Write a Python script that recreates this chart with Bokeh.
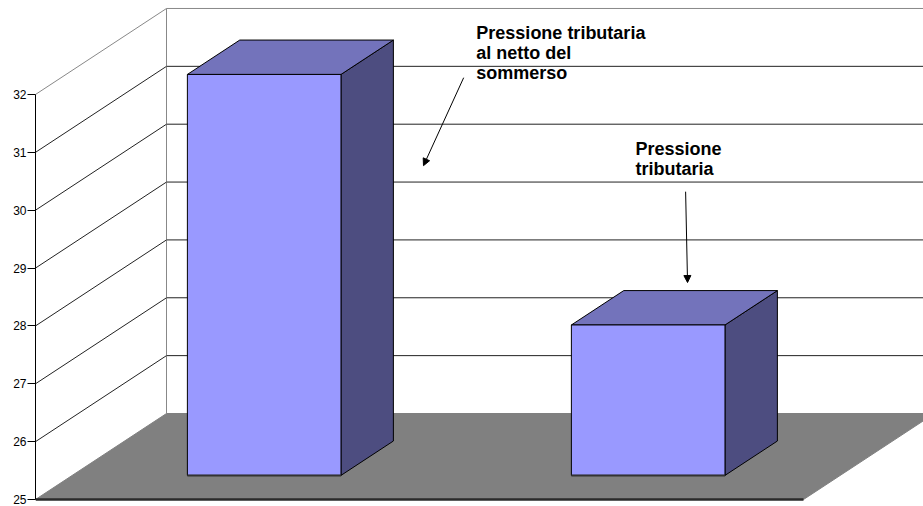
from bokeh.plotting import figure
from bokeh.models import Range1d, FixedTicker, Label, Arrow, NormalHead
from bokeh.embed import file_html
from bokeh.resources import INLINE

# ---- data ----
categories = ["Pressione tributaria al netto del sommerso", "Pressione tributaria"]
values = [31.93, 27.6]
y_ticks = [25, 26, 27, 28, 29, 30, 31, 32]
label1_lines = ["Pressione tributaria", "al netto del", "sommerso"]
label2_lines = ["Pressione", "tributaria"]

# ---- geometry / style constants ----
W, H = 923, 506
LEFT = 35
PX = 57.86                    # pixels per value unit
CAT_PX = 384.0                # pixels per category
Y0, YTOP = y_ticks[0], y_ticks[-1]
DX = 131.0 / CAT_PX           # full depth offset in category units
DY = 86.0 / PX                # full depth offset in value units
D_FRONT = 0.28                # bar front position (fraction of depth)
D_BAR = 0.40                  # bar depth (fraction of depth)
BAR_W = 0.40                  # bar width (fraction of category)
FONT = "Liberation Sans"
LINE_SP = 20.0 / PX

n = len(categories)
x_end = (W - LEFT) / CAT_PX

p = figure(width=W, height=H, output_backend="svg", toolbar_location=None,
           x_range=Range1d(0, x_end),
           y_range=Range1d(Y0 - 7.0 / PX, Y0 + 499.0 / PX),
           x_axis_location=None, y_axis_location="left",
           min_border_left=LEFT, min_border_right=0, min_border_top=0, min_border_bottom=0)
p.outline_line_color = None
p.xgrid.visible = False
p.ygrid.visible = False
p.background_fill_color = "white"

ax = p.yaxis[0]
ax.ticker = FixedTicker(ticks=y_ticks)
ax.bounds = (Y0, YTOP)
ax.major_tick_in = 0
ax.major_tick_out = 8
ax.minor_tick_line_color = None
ax.axis_line_color = "black"
ax.major_tick_line_color = "black"
ax.major_label_standoff = 1
ax.major_label_text_font = FONT
ax.major_label_text_font_size = "12px"
ax.major_label_text_color = "black"

# back wall gridlines
back_x0 = DX
back_x1 = n + DX
for t in y_ticks[1:-1]:
    p.line([back_x0, back_x1], [t + DY, t + DY], line_color="#222222", line_width=1)
# back wall top edge and left vertical edge
p.line([back_x0, back_x1], [YTOP + DY, YTOP + DY], line_color="#888888", line_width=1)
p.line([back_x0, back_x0], [Y0 + DY, YTOP + DY], line_color="#888888", line_width=1)

# left wall diagonals
for t in y_ticks[1:-1]:
    p.line([0, DX], [t, t + DY], line_color="#222222", line_width=1)
p.line([0, DX], [YTOP, YTOP + DY], line_color="#888888", line_width=1)

# floor
p.patch([0, n, n + DX, DX], [Y0, Y0, Y0 + DY, Y0 + DY],
        fill_color="#808080", line_color="#808080", line_width=1)

# bars
for i, v in enumerate(values):
    x0 = i + (1 - BAR_W) / 2 + D_FRONT * DX
    x1 = x0 + BAR_W
    yb = Y0 + D_FRONT * DY
    yt = v + D_FRONT * DY
    bx = D_BAR * DX
    by = D_BAR * DY
    # side face
    p.patch([x1, x1 + bx, x1 + bx, x1], [yb, yb + by, yt + by, yt],
            fill_color="#4D4D80", line_color="black", line_width=1)
    # top face
    p.patch([x0, x1, x1 + bx, x0 + bx], [yt, yt, yt + by, yt + by],
            fill_color="#7373BB", line_color="black", line_width=1)
    # front face
    p.patch([x0, x1, x1, x0], [yb, yb, yt, yt],
            fill_color="#9999FF", line_color="black", line_width=1)
    p.line([x0, x1], [yb, yb], line_color="#333333", line_width=2)

# floor front edge
p.line([0, n], [Y0, Y0], line_color="#2a2a2a", line_width=2.5)

# annotations
lab1_x, lab1_y = 1.148, 33.055
for k, s in enumerate(label1_lines):
    p.add_layout(Label(x=lab1_x, y=lab1_y - k * LINE_SP, text=s, text_font=FONT,
                       text_font_size="18px", text_font_style="bold",
                       text_color="black", text_baseline="alphabetic"))
lab2_x, lab2_y = 1.5625, 31.06
for k, s in enumerate(label2_lines):
    p.add_layout(Label(x=lab2_x, y=lab2_y - k * LINE_SP, text=s, text_font=FONT,
                       text_font_size="18px", text_font_style="bold",
                       text_color="black", text_baseline="alphabetic"))

p.add_layout(Arrow(end=NormalHead(size=7, fill_color="black", line_color="black"),
                   x_start=1.115, y_start=32.29, x_end=1.0104, y_end=30.77,
                   line_color="black", line_width=1))
p.add_layout(Arrow(end=NormalHead(size=7, fill_color="black", line_color="black"),
                   x_start=1.693, y_start=30.32, x_end=1.698, y_end=28.75,
                   line_color="black", line_width=1))

open("out.html", "w").write(file_html(p, INLINE))
